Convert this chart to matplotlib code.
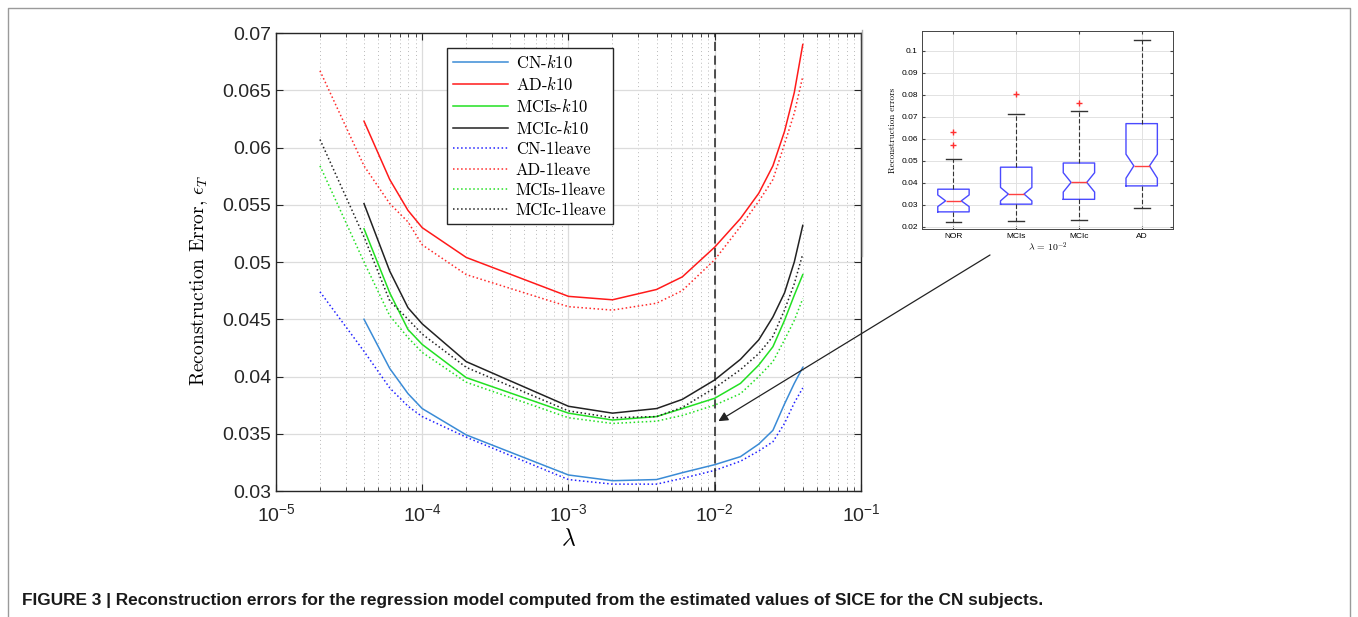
import matplotlib
matplotlib.use("Agg")
import matplotlib.pyplot as plt
from matplotlib.ticker import NullFormatter, LogLocator
from matplotlib.lines import Line2D
import numpy as np

plt.rcParams['font.family'] = ['Liberation Sans', 'DejaVu Sans']
plt.rcParams['mathtext.fontset'] = 'cm'

# lambda grid (k10 curves start at 4e-5, 1leave curves at 2e-5)
lam_k10 = [4e-5, 6e-5, 8e-5, 1e-4, 2e-4, 1e-3, 2e-3, 4e-3, 6e-3, 1e-2,
           1.5e-2, 2e-2, 2.5e-2, 3e-2, 3.5e-2, 4e-2]
lam_leave = [2e-5] + lam_k10

cn_k10 = [0.0450, 0.0407, 0.0385, 0.0372, 0.0349, 0.0314, 0.0309, 0.0310, 0.0316, 0.0323,
          0.0330, 0.0341, 0.0353, 0.0376, 0.0394, 0.0408]
ad_k10 = [0.0623, 0.0572, 0.0545, 0.0530, 0.0504, 0.0470, 0.0467, 0.0476, 0.0487, 0.0513,
          0.0538, 0.0560, 0.0584, 0.0614, 0.0648, 0.0690]
mcis_k10 = [0.0529, 0.0473, 0.0441, 0.0428, 0.0399, 0.0368, 0.0362, 0.0365, 0.0372, 0.0381,
            0.0394, 0.0410, 0.0426, 0.0449, 0.0471, 0.0489]
mcic_k10 = [0.0551, 0.0492, 0.0460, 0.0446, 0.0413, 0.0374, 0.0368, 0.0372, 0.0380, 0.0397,
            0.0415, 0.0432, 0.0452, 0.0473, 0.0500, 0.0532]

cn_leave = [0.0474, 0.0422, 0.0390, 0.0374, 0.0365, 0.0347, 0.0310, 0.0306, 0.0306, 0.0311, 0.0318,
            0.0326, 0.0335, 0.0343, 0.0359, 0.0377, 0.0390]
ad_leave = [0.0667, 0.0584, 0.0551, 0.0535, 0.0515, 0.0489, 0.0461, 0.0458, 0.0464, 0.0475, 0.0502,
            0.0531, 0.0553, 0.0572, 0.0603, 0.0630, 0.0662]
mcis_leave = [0.0584, 0.0500, 0.0453, 0.0434, 0.0421, 0.0395, 0.0364, 0.0359, 0.0361, 0.0366, 0.0375,
              0.0385, 0.0400, 0.0413, 0.0432, 0.0449, 0.0468]
mcic_leave = [0.0607, 0.0522, 0.0466, 0.0450, 0.0437, 0.0408, 0.0370, 0.0364, 0.0365, 0.0373, 0.0390,
              0.0406, 0.0420, 0.0435, 0.0458, 0.0481, 0.0507]

# inset boxplot (lambda = 1e-2)
groups = ["NOR", "MCIs", "MCIc", "AD"]
whislo = [0.0224, 0.0228, 0.0230, 0.0286]
q1 = [0.0268, 0.0303, 0.0325, 0.0386]
med = [0.0318, 0.0349, 0.0402, 0.0477]
q3 = [0.0371, 0.0471, 0.0490, 0.0669]
whishi = [0.0507, 0.0712, 0.0725, 0.1048]
cilo = [0.0292, 0.0318, 0.0358, 0.0421]
cihi = [0.0345, 0.0379, 0.0446, 0.0530]
fliers = [[0.0573, 0.0633], [0.0802], [0.0764], []]

fig = plt.figure(figsize=(13.58, 6.17), dpi=100)
ax = fig.add_axes([0.2032, 0.2042, 0.4308, 0.7423])

cn_col = '#3a8bd6'
gr_col = '#22e022'
ax.plot(lam_k10, cn_k10, color=cn_col, lw=1.1, label=r'CN-$k$10')
ax.plot(lam_k10, ad_k10, color='#ff1a1a', lw=1.1, label=r'AD-$k$10')
ax.plot(lam_k10, mcis_k10, color=gr_col, lw=1.1, label=r'MCIs-$k$10')
ax.plot(lam_k10, mcic_k10, color='#222222', lw=1.1, label=r'MCIc-$k$10')
ax.plot(lam_leave, cn_leave, color='#2222ff', lw=1.1, ls=':', label='CN-1leave')
ax.plot(lam_leave, ad_leave, color='#ff2a2a', lw=1.1, ls=':', label='AD-1leave')
ax.plot(lam_leave, mcis_leave, color=gr_col, lw=1.1, ls=':', label='MCIs-1leave')
ax.plot(lam_leave, mcic_leave, color='#222222', lw=1.1, ls=':', label='MCIc-1leave')

ax.axvline(1e-2, color='#222222', lw=1.1, ls=(0, (6, 3)))

ax.set_xscale('log')
ax.set_xlim(1e-5, 1e-1)
ax.set_ylim(0.03, 0.07)
ax.set_yticks(np.arange(0.03, 0.0701, 0.005))
ax.set_yticklabels(['0.03', '0.035', '0.04', '0.045', '0.05', '0.055', '0.06', '0.065', '0.07'])
xt = [1e-5, 1e-4, 1e-3, 1e-2, 1e-1]
ax.set_xticks(xt)
ax.set_xticklabels([r'$\mathdefault{10^{%d}}$' % int(np.log10(v)) for v in xt])
ax.xaxis.set_minor_locator(LogLocator(base=10, subs=np.arange(2, 10)))
ax.xaxis.set_minor_formatter(NullFormatter())

ax.grid(True, which='major', color='#dcdcdc', lw=0.9, ls='-')
ax.grid(True, which='minor', axis='x', color='#b8b8b8', lw=0.7, ls=(0, (1, 3)))
ax.set_axisbelow(True)
ax.tick_params(which='both', direction='in', top=True, right=True, color='#262626')
ax.tick_params(which='major', length=5, labelsize=14, labelcolor='#262626')
ax.tick_params(axis='x', which='major', labelsize=14, pad=9)
ax.tick_params(which='minor', length=3)
for s in ax.spines.values():
    s.set_color('#262626')
    s.set_linewidth(1.0)

ax.set_ylabel(r'Reconstruction Error, $\epsilon_T$', family='cmr10', fontsize=14)
ax.yaxis.set_label_coords(-0.113, 0.461)
ax.set_xlabel(r'$\lambda$', fontsize=17, labelpad=2)

leg = ax.legend(loc='upper left', bbox_to_anchor=(0.292, 0.967), frameon=True, fancybox=False,
                edgecolor='#262626', framealpha=1, prop={'family': 'cmr10', 'size': 12},
                handlelength=3.3, handletextpad=0.5, labelspacing=0.3, borderpad=0.35,
                borderaxespad=0)
leg.get_frame().set_linewidth(1.0)

# inset boxplot
axi = fig.add_axes([0.679, 0.6288, 0.1848, 0.321])
stats = []
for i, g in enumerate(groups):
    stats.append(dict(label=g, whislo=whislo[i], q1=q1[i], med=med[i], q3=q3[i],
                      whishi=whishi[i], fliers=fliers[i], cilo=cilo[i], cihi=cihi[i]))
axi.bxp(stats, positions=[1, 2, 3, 4], widths=0.5, shownotches=True,
        boxprops=dict(color='#4a4aff', lw=1.0),
        medianprops=dict(color='#ff4040', lw=1.0),
        whiskerprops=dict(color='#333333', lw=0.8, ls=(0, (4, 2))),
        capprops=dict(color='#333333', lw=1.0),
        flierprops=dict(marker='+', markeredgecolor='#ff3030', markersize=5, ls='none'))
axi.set_xlim(0.5, 4.5)
axi.set_ylim(0.019, 0.109)
axi.set_yticks(np.arange(0.02, 0.101, 0.01))
axi.set_yticklabels(['0.02', '0.03', '0.04', '0.05', '0.06', '0.07', '0.08', '0.09', '0.1'])
axi.grid(True, color='#e2e2e2', lw=0.7)
axi.set_axisbelow(True)
axi.tick_params(direction='in', length=2, labelsize=6, top=True, right=True, pad=3, color='#444444')
axi.tick_params(axis='x', labelsize=6)
for s in axi.spines.values():
    s.set_color('#444444')
    s.set_linewidth(0.7)
axi.set_ylabel('Reconstruction errors', family='cmr10', fontsize=6.5, labelpad=3)
axi.set_xlabel(r'$\lambda\,=\,10^{-2}$', fontsize=7, labelpad=0)

# arrow from inset to the dashed line
ax.annotate('', xy=(1.06e-2, 0.0361), xycoords='data',
            xytext=(990 / 1358, 1 - 255 / 617), textcoords='figure fraction',
            arrowprops=dict(arrowstyle='-|>', color='#222222', lw=0.9,
                            mutation_scale=14, shrinkA=0, shrinkB=0),
            annotation_clip=False)

# frame lines
fig.add_artist(Line2D([862 / 1358, 862 / 1358], [1 - 30 / 617, 1 - 256 / 617],
                      color='#b0b0b0', lw=1.0))
fig.add_artist(Line2D([8 / 1358, 8 / 1358, 1350 / 1358, 1350 / 1358],
                      [0, 1 - 8 / 617, 1 - 8 / 617, 0], color='#9a9a9a', lw=1.0))

fig.text(22 / 1358, 1 - 600 / 617,
         'FIGURE 3 | Reconstruction errors for the regression model computed from the estimated '
         'values of SICE for the CN subjects.',
         fontsize=12.4, fontweight='bold', color='#1a1a1a', va='center', ha='left')

fig.savefig('out.png', dpi=100)
